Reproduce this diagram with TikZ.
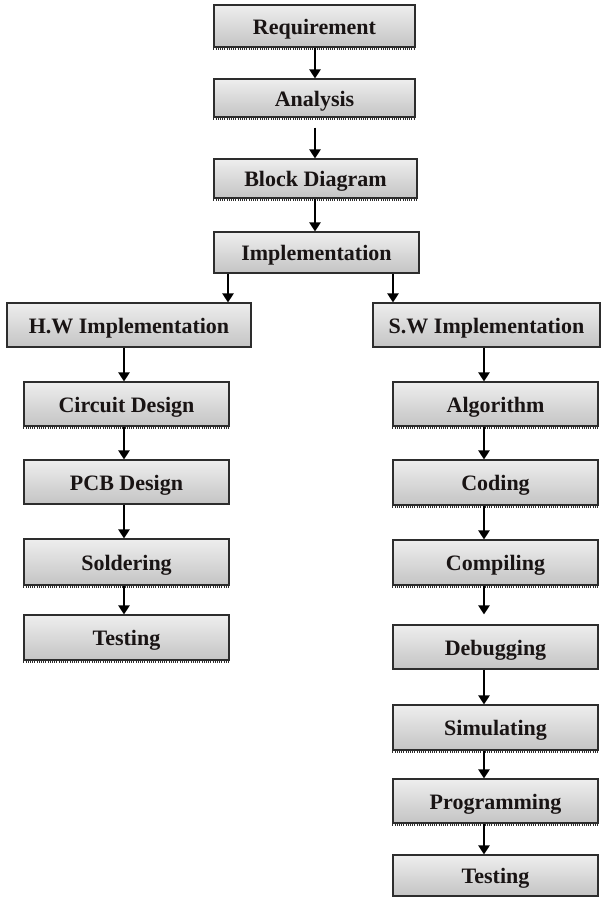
\documentclass[tikz,border=0pt]{standalone}
\usepackage{fontspec}
\setmainfont{Liberation Serif}
\usetikzlibrary{arrows.meta,calc}
\definecolor{boxtop}{RGB}{238,238,238}
\definecolor{boxbot}{RGB}{196,196,196}
\definecolor{boxline}{RGB}{45,45,45}
\definecolor{txt}{RGB}{25,20,20}
\tikzset{
  box/.style={rectangle, draw=boxline, line width=1.1pt, top color=boxtop, bottom color=boxbot,
    inner sep=0pt, text=txt, text height=16pt, text depth=0pt,
    font=\fontsize{22}{24}\selectfont\bfseries},
  arr/.style={line width=2.6pt, -{Triangle[width=11pt,length=9pt]}},
  shadowline/.style={line width=1.6pt, dash pattern=on 1pt off 1.2pt, boxline}
}
\begin{document}
\begin{tikzpicture}[x=1pt,y=-1pt]
\useasboundingbox (0,0) rectangle (604,897);
\fill[white] (0,0) rectangle (604,897);
% column coordinates
\coordinate (colM) at (315,0);
\coordinate (colHW) at (228,0);
\coordinate (colSW) at (393,0);
\coordinate (colL) at (124,0);
\coordinate (colR) at (484,0);
% top chain
\node[box, minimum width=201pt, minimum height=42pt] (req) at (314.5,26) {Requirement};
\node[box, minimum width=201pt, minimum height=38pt] (ana) at (314.5,98) {Analysis};
\node[box, minimum width=203pt, minimum height=39pt] (blk) at (315.5,178.5) {Block Diagram};
\node[box, minimum width=205pt, minimum height=41pt] (imp) at (316.5,252.5) {Implementation};
% branches
\node[box, minimum width=244pt, minimum height=44pt] (hw) at (129,325) {H.W Implementation};
\node[box, minimum width=227pt, minimum height=44pt] (sw) at (486.5,325) {S.W Implementation};
% left column
\node[box, minimum width=205pt, minimum height=44pt] (cir) at (126.5,404) {Circuit Design};
\node[box, minimum width=205pt, minimum height=44pt] (pcb) at (126.5,482) {PCB Design};
\node[box, minimum width=205pt, minimum height=46pt] (sol) at (126.5,562) {Soldering};
\node[box, minimum width=205pt, minimum height=45pt] (tsa) at (126.5,637.5) {Testing};
% right column
\node[box, minimum width=205pt, minimum height=44pt] (alg) at (495.5,404) {Algorithm};
\node[box, minimum width=205pt, minimum height=45pt] (cod) at (495.5,482.5) {Coding};
\node[box, minimum width=205pt, minimum height=45pt] (cmp) at (495.5,562.5) {Compiling};
\node[box, minimum width=205pt, minimum height=44pt] (deb) at (495.5,647) {Debugging};
\node[box, minimum width=205pt, minimum height=45pt] (sim) at (495.5,727.5) {Simulating};
\node[box, minimum width=205pt, minimum height=44pt] (prg) at (495.5,801) {Programming};
\node[box, minimum width=205pt, minimum height=41pt] (tsb) at (495.5,875.5) {Testing};
% dotted bottom shadows
\foreach \n in {req,ana,blk,cir,sol,tsa,alg,cod,cmp,sim,prg}{
  \draw[shadowline] ([yshift=-1.6pt]\n.south west) -- ([yshift=-1.6pt]\n.south east);
}
% connectors
\draw[arr] (req.south -| colM) -- (ana.north -| colM);
\draw[arr, shorten <=10pt] (ana.south -| colM) -- (blk.north -| colM);
\draw[arr] (blk.south -| colM) -- (imp.north -| colM);
\draw[arr] (imp.south -| colHW) -- (hw.north -| colHW);
\draw[arr] (imp.south -| colSW) -- (sw.north -| colSW);
\draw[arr] (hw.south -| colL) -- (cir.north -| colL);
\draw[arr] (cir.south -| colL) -- (pcb.north -| colL);
\draw[arr] (pcb.south -| colL) -- (sol.north -| colL);
\draw[arr] (sol.south -| colL) -- (tsa.north -| colL);
\draw[arr] (sw.south -| colR) -- (alg.north -| colR);
\draw[arr] (alg.south -| colR) -- (cod.north -| colR);
\draw[arr] (cod.south -| colR) -- (cmp.north -| colR);
\draw[arr, shorten >=10pt] (cmp.south -| colR) -- (deb.north -| colR);
\draw[arr] (deb.south -| colR) -- (sim.north -| colR);
\draw[arr] (sim.south -| colR) -- (prg.north -| colR);
\draw[arr] (prg.south -| colR) -- (tsb.north -| colR);
\end{tikzpicture}
\end{document}
